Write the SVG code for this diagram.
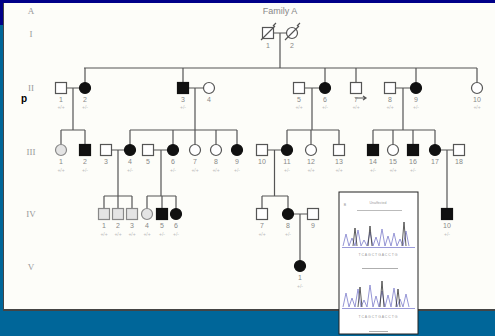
<svg xmlns="http://www.w3.org/2000/svg" width="495" height="336" viewBox="0 0 495 336">
  <style>
    .ln{stroke:#555;stroke-width:1.2;fill:none}
    .sym{stroke:#555;stroke-width:1.2}
    .aff{fill:#111;stroke:#111}
    .un{fill:#fff}
    .gr{fill:#e4e4e4;stroke:#888}
    .num{font-family:"Liberation Sans",Arial,sans-serif;font-size:7px;fill:#888;text-anchor:middle}
    .gt{font-family:"Liberation Sans",Arial,sans-serif;font-size:5px;fill:#bbb;text-anchor:middle}
    .gen{font-family:"Liberation Serif","Times New Roman",serif;font-size:9px;fill:#999;text-anchor:middle}
    .ttl{font-family:"Liberation Sans",Arial,sans-serif;font-size:9px;fill:#888;text-anchor:middle}
    .tiny{font-family:"Liberation Sans",Arial,sans-serif;font-size:3.5px;fill:#999;text-anchor:middle}
  </style>

  <!-- slide frame -->
  <rect x="0" y="0" width="495" height="336" fill="#006699"/>
  <rect x="0" y="0" width="495" height="3" fill="#000088"/>
  <rect x="0" y="0" width="3" height="25" fill="#000088"/>
  <rect x="3" y="3" width="492" height="308" fill="#444"/>
  <rect x="4" y="3" width="491" height="306" fill="#fdfdf9"/>

  <!-- headings -->
  <text class="gen" x="31" y="14">A</text>
  <text class="ttl" x="280" y="14">Family A</text>
  <text class="gen" x="31" y="37">I</text>
  <text class="gen" x="31" y="91">II</text>
  <text class="gen" x="31" y="155">III</text>
  <text class="gen" x="31" y="217">IV</text>
  <text class="gen" x="31" y="270">V</text>
  <text x="24" y="102" font-family="Liberation Sans,Arial,sans-serif" font-size="10" font-weight="bold" fill="#000" text-anchor="middle">p</text>

  <!-- connectors -->
  <g id="connectors" class="ln">
    <!-- generation I -->
    <path d="M273.5 33H286.5M280 33V68M84 68H477"/>
    <path d="M85 68V82.5M183 68V82.5M325 68V82.5M356 68V82.5M416 68V82.5M477 68V82.5"/>
    <!-- generation II couples -->
    <path d="M66.5 88H79.5M73 88V130M61 130H85M61 130V144.5M85 130V144.5"/>
    <path d="M188.5 88H203.5M195 88V130M130 130H237M130 130V144.5M173 130V144.5M195 130V144.5M216 130V144.5M237 130V144.5"/>
    <path d="M304.5 88H319.5M312 88V130M287 130H339M287 130V144.5M311 130V144.5M339 130V144.5"/>
    <path d="M395.5 88H410.5M403 88V130M373 130H435M373 130V144.5M393 130V144.5M413 130V144.5M435 130V144.5"/>
    <!-- generation III couples -->
    <path d="M111.5 150H124.5M118 150V196M104 196H132M104 196V208.5M118 196V208.5M132 196V208.5"/>
    <path d="M153.5 150H167.5M161 150V196M147 196H176M147 196V208.5M162 196V208.5M176 196V208.5"/>
    <path d="M267.5 150H281.5M274.5 150V196M262 196H288M262 196V208.5M288 196V208.5"/>
    <path d="M440.5 150H453.5M447 150V208.5"/>
    <!-- generation IV couple -->
    <path d="M293.5 214H307.5M300 214V260.5"/>
    <!-- arrow beside II-7 -->
    <path d="M355 98H366M363 96L366 98L363 100"/>
  </g>

  <!-- generation I -->
  <g id="I-1"><rect class="sym un" x="262.5" y="27.5" width="11" height="11"/><path class="ln" d="M261 40L275 26M273 26l3-3"/><text class="num" x="268" y="48">1</text></g>
  <g id="I-2"><circle class="sym un" cx="292" cy="33" r="5.5"/><path class="ln" d="M285 40L299 26M297 26l3-3"/><text class="num" x="292" y="48">2</text></g>

  <!-- generation II -->
  <g id="II-1"><rect class="sym un" x="55.5" y="82.5" width="11" height="11"/><text class="num" x="61" y="102">1</text><text class="gt" x="61" y="109">+/+</text></g>
  <g id="II-2"><circle class="sym aff" cx="85" cy="88" r="5.5"/><text class="num" x="85" y="102">2</text><text class="gt" x="85" y="109">+/-</text></g>
  <g id="II-3"><rect class="sym aff" x="177.5" y="82.5" width="11" height="11"/><text class="num" x="183" y="102">3</text><text class="gt" x="183" y="109">+/-</text></g>
  <g id="II-4"><circle class="sym un" cx="209" cy="88" r="5.5"/><text class="num" x="209" y="102">4</text></g>
  <g id="II-5"><rect class="sym un" x="293.5" y="82.5" width="11" height="11"/><text class="num" x="299" y="102">5</text><text class="gt" x="299" y="109">+/+</text></g>
  <g id="II-6"><circle class="sym aff" cx="325" cy="88" r="5.5"/><text class="num" x="325" y="102">6</text><text class="gt" x="325" y="109">+/-</text></g>
  <g id="II-7"><rect class="sym un" x="350.5" y="82.5" width="11" height="11"/><text class="num" x="356" y="102">7</text><text class="gt" x="356" y="109">+/+</text></g>
  <g id="II-8"><rect class="sym un" x="384.5" y="82.5" width="11" height="11"/><text class="num" x="390" y="102">8</text><text class="gt" x="390" y="109">+/+</text></g>
  <g id="II-9"><circle class="sym aff" cx="416" cy="88" r="5.5"/><text class="num" x="416" y="102">9</text><text class="gt" x="416" y="109">+/-</text></g>
  <g id="II-10"><circle class="sym un" cx="477" cy="88" r="5.5"/><text class="num" x="477" y="102">10</text><text class="gt" x="477" y="109">+/+</text></g>

  <!-- generation III -->
  <g id="III-1"><circle class="sym gr" cx="61" cy="150" r="5.5"/><text class="num" x="61" y="164">1</text><text class="gt" x="61" y="172">+/+</text></g>
  <g id="III-2"><rect class="sym aff" x="79.5" y="144.5" width="11" height="11"/><text class="num" x="85" y="164">2</text><text class="gt" x="85" y="172">+/-</text></g>
  <g id="III-3"><rect class="sym un" x="100.5" y="144.5" width="11" height="11"/><text class="num" x="106" y="164">3</text></g>
  <g id="III-4"><circle class="sym aff" cx="130" cy="150" r="5.5"/><text class="num" x="130" y="164">4</text><text class="gt" x="130" y="172">+/-</text></g>
  <g id="III-5"><rect class="sym un" x="142.5" y="144.5" width="11" height="11"/><text class="num" x="148" y="164">5</text></g>
  <g id="III-6"><circle class="sym aff" cx="173" cy="150" r="5.5"/><text class="num" x="173" y="164">6</text><text class="gt" x="173" y="172">+/-</text></g>
  <g id="III-7"><circle class="sym un" cx="195" cy="150" r="5.5"/><text class="num" x="195" y="164">7</text><text class="gt" x="195" y="172">+/+</text></g>
  <g id="III-8"><circle class="sym un" cx="216" cy="150" r="5.5"/><text class="num" x="216" y="164">8</text><text class="gt" x="216" y="172">+/+</text></g>
  <g id="III-9"><circle class="sym aff" cx="237" cy="150" r="5.5"/><text class="num" x="237" y="164">9</text><text class="gt" x="237" y="172">+/-</text></g>
  <g id="III-10"><rect class="sym un" x="256.5" y="144.5" width="11" height="11"/><text class="num" x="262" y="164">10</text></g>
  <g id="III-11"><circle class="sym aff" cx="287" cy="150" r="5.5"/><text class="num" x="287" y="164">11</text><text class="gt" x="287" y="172">+/-</text></g>
  <g id="III-12"><circle class="sym un" cx="311" cy="150" r="5.5"/><text class="num" x="311" y="164">12</text><text class="gt" x="311" y="172">+/+</text></g>
  <g id="III-13"><rect class="sym un" x="333.5" y="144.5" width="11" height="11"/><text class="num" x="339" y="164">13</text><text class="gt" x="339" y="172">+/+</text></g>
  <g id="III-14"><rect class="sym aff" x="367.5" y="144.5" width="11" height="11"/><text class="num" x="373" y="164">14</text><text class="gt" x="373" y="172">+/-</text></g>
  <g id="III-15"><circle class="sym un" cx="393" cy="150" r="5.5"/><text class="num" x="393" y="164">15</text><text class="gt" x="393" y="172">+/+</text></g>
  <g id="III-16"><rect class="sym aff" x="407.5" y="144.5" width="11" height="11"/><text class="num" x="413" y="164">16</text><text class="gt" x="413" y="172">+/-</text></g>
  <g id="III-17"><circle class="sym aff" cx="435" cy="150" r="5.5"/><text class="num" x="435" y="164">17</text></g>
  <g id="III-18"><rect class="sym un" x="453.5" y="144.5" width="11" height="11"/><text class="num" x="459" y="164">18</text></g>

  <!-- generation IV -->
  <g id="IV-1"><rect class="sym gr" x="98.5" y="208.5" width="11" height="11"/><text class="num" x="104" y="228">1</text><text class="gt" x="104" y="236">+/+</text></g>
  <g id="IV-2"><rect class="sym gr" x="112.5" y="208.5" width="11" height="11"/><text class="num" x="118" y="228">2</text><text class="gt" x="118" y="236">+/+</text></g>
  <g id="IV-3"><rect class="sym gr" x="126.5" y="208.5" width="11" height="11"/><text class="num" x="132" y="228">3</text><text class="gt" x="132" y="236">+/+</text></g>
  <g id="IV-4"><circle class="sym gr" cx="147" cy="214" r="5.5"/><text class="num" x="147" y="228">4</text><text class="gt" x="147" y="236">+/+</text></g>
  <g id="IV-5"><rect class="sym aff" x="156.5" y="208.5" width="11" height="11"/><text class="num" x="162" y="228">5</text><text class="gt" x="162" y="236">+/-</text></g>
  <g id="IV-6"><circle class="sym aff" cx="176" cy="214" r="5.5"/><text class="num" x="176" y="228">6</text><text class="gt" x="176" y="236">+/-</text></g>
  <g id="IV-7"><rect class="sym un" x="256.5" y="208.5" width="11" height="11"/><text class="num" x="262" y="228">7</text><text class="gt" x="262" y="236">+/+</text></g>
  <g id="IV-8"><circle class="sym aff" cx="288" cy="214" r="5.5"/><text class="num" x="288" y="228">8</text><text class="gt" x="288" y="236">+/-</text></g>
  <g id="IV-9"><rect class="sym un" x="307.5" y="208.5" width="11" height="11"/><text class="num" x="313" y="228">9</text></g>
  <g id="IV-10"><rect class="sym aff" x="441.5" y="208.5" width="11" height="11"/><text class="num" x="447" y="228">10</text><text class="gt" x="447" y="236">+/-</text></g>

  <!-- generation V -->
  <g id="V-1"><circle class="sym aff" cx="300" cy="266" r="5.5"/><text class="num" x="300" y="280">1</text><text class="gt" x="300" y="288">+/-</text></g>

  <!-- sequencing traces panel -->
  <g id="traces">
    <rect x="339" y="192" width="79" height="142" fill="#fff" stroke="#222" stroke-width="1"/>
    <text class="tiny" x="345" y="206" font-size="5">B</text>
    <text class="tiny" x="378" y="204">Unaffected</text>
    <path d="M357 210.5H402" stroke="#aaa" stroke-width="0.8"/>
    <path d="M343 246 l3 -12 l3 12 l3 -8 l3 8 l3 -16 l3 16 l3 -6 l3 6 l3 -14 l3 14 l3 -9 l3 9 l3 -17 l3 17 l3 -10 l3 10 l3 -13 l3 13 l3 -7 l3 7 l3 -15 l3 15" fill="none" stroke="#8a8ad0" stroke-width="0.9"/>
    <path d="M353 246l2 -18l2 18M368 246l2 -20l2 20M402 246l2 -24l2 24" fill="none" stroke="#333" stroke-width="0.8"/>
    <path d="M342 247.5H415" stroke="#9a9ad8" stroke-width="1"/>
    <text class="tiny" x="378" y="256" font-size="4">T C A G C T G A C C T G</text>
    <path d="M362 268.5H398" stroke="#999" stroke-width="0.8"/>
    <path d="M343 307 l3 -14 l3 14 l3 -9 l3 9 l3 -18 l3 18 l3 -7 l3 7 l3 -22 l3 22 l3 -11 l3 11 l3 -16 l3 16 l3 -12 l3 12 l3 -19 l3 19 l3 -8 l3 8 l3 -13 l3 13" fill="none" stroke="#8a8ad0" stroke-width="0.9"/>
    <path d="M358 307l2 -20l2 20M380 307l2 -26l2 26M396 307l2 -18l2 18" fill="none" stroke="#333" stroke-width="0.8"/>
    <path d="M342 308.5H415" stroke="#9a9ad8" stroke-width="1"/>
    <text class="tiny" x="378" y="318" font-size="4">T C A G C T G A C C T G</text>
    <path d="M369 331.5H388" stroke="#999" stroke-width="0.8"/>
  </g>
</svg>
